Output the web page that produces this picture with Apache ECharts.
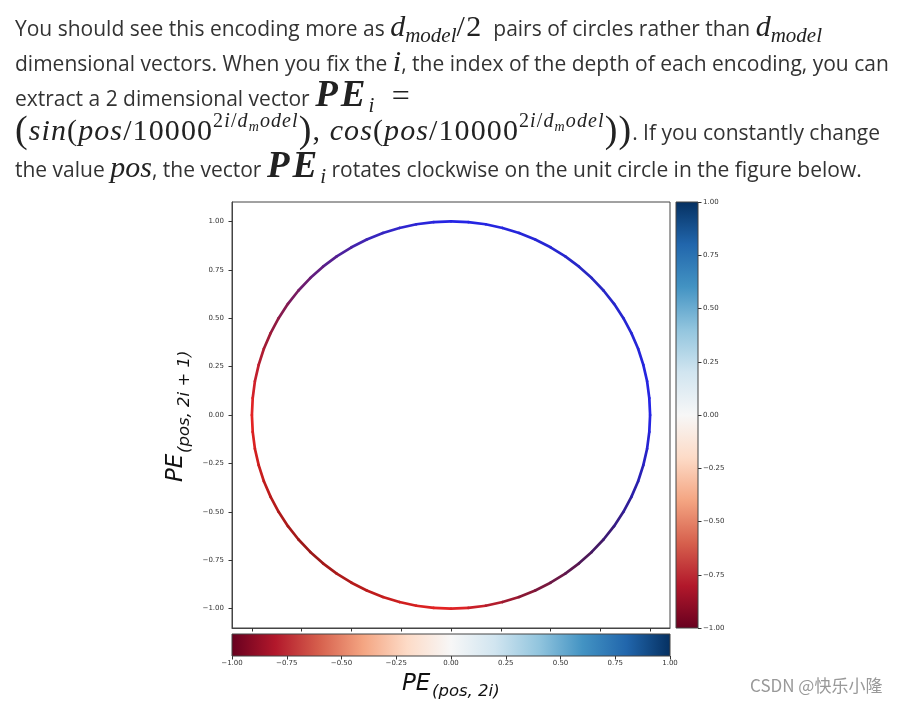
<!DOCTYPE html>
<html>
<head>
<meta charset="utf-8">
<script src="https://cdn.jsdelivr.net/npm/echarts@6/dist/echarts.min.js"></script>
<style>
html,body{margin:0;padding:0;background:#fff;width:903px;height:704px;overflow:hidden;}
#chart{position:absolute;left:0;top:0;width:903px;height:704px;}
.ln{position:absolute;left:15px;white-space:nowrap;font-family:'Open Sans',sans-serif;font-size:21px;line-height:20px;color:#333;}
.ln span{line-height:0;}
.mi{font-family:'Liberation Serif',serif;font-style:italic;font-size:30px;color:#222;}
.mr{font-family:'Liberation Serif',serif;font-size:30px;color:#222;}
.mb{font-family:'Liberation Serif',serif;font-style:italic;font-weight:bold;font-size:37px;letter-spacing:3px;color:#222;}
.sb{font-family:'Liberation Serif',serif;font-style:italic;font-size:21px;position:relative;top:6px;color:#222;}
.sp{font-family:'Liberation Serif',serif;font-style:italic;font-size:20px;position:relative;top:-13px;color:#222;}
.spr{font-family:'Liberation Serif',serif;font-size:20px;position:relative;top:-13px;color:#222;}
.ss{font-family:'Liberation Serif',serif;font-style:italic;font-size:14px;position:relative;top:-9px;color:#222;}
.big{font-family:'Liberation Serif',serif;font-size:38px;color:#222;position:relative;top:2px;}
.l4 span{letter-spacing:1.1px;}
</style>
</head>
<body>
<div id="chart"></div>
<div class="ln" style="top:18px;">You should see this encoding more as <span class="mi">d</span><span class="sb">model</span><span class="mr" style="letter-spacing:1.5px;margin-right:5px;">/2</span> pairs of circles rather than <span class="mi">d</span><span class="sb">model</span></div>
<div class="ln" style="top:53px;">dimensional vectors. When you fix the <span class="mi">i</span>, the index of the depth of each encoding, you can</div>
<div class="ln" style="top:88px;">extract a 2 dimensional vector <span class="mb">PE</span><span class="sb">i</span> <span class="mr" style="margin-left:12px;font-size:32px;">=</span></div>
<div class="ln l4" style="top:122px;"><span class="big">(</span><span class="mi">sin</span><span class="mr">(</span><span class="mi">pos</span><span class="mr">/10000</span><span class="spr">2</span><span class="sp">i</span><span class="spr">/</span><span class="sp">d</span><span class="ss">m</span><span class="sp">odel</span><span class="big">)</span><span class="mr">, </span><span class="mi">cos</span><span class="mr">(</span><span class="mi">pos</span><span class="mr">/10000</span><span class="spr">2</span><span class="sp">i</span><span class="spr">/</span><span class="sp">d</span><span class="ss">m</span><span class="sp">odel</span><span class="big">))</span><span style="letter-spacing:0;">. If you constantly change</span></div>
<div class="ln" style="top:159px;">the value <span class="mi">pos</span>, the vector <span class="mb">PE</span><span class="sb">i</span> rotates clockwise on the unit circle in the figure below.</div>
<script>
// ---- data ----
const circleX = [1.000,0.996,0.985,0.966,0.940,0.906,0.866,0.819,0.766,0.707,0.643,0.574,0.500,0.423,0.342,0.259,0.174,0.087,
  0.000,-0.087,-0.174,-0.259,-0.342,-0.423,-0.500,-0.574,-0.643,-0.707,-0.766,-0.819,-0.866,-0.906,-0.940,-0.966,-0.985,-0.996,
  -1.000,-0.996,-0.985,-0.966,-0.940,-0.906,-0.866,-0.819,-0.766,-0.707,-0.643,-0.574,-0.500,-0.423,-0.342,-0.259,-0.174,-0.087,
  0.000,0.087,0.174,0.259,0.342,0.423,0.500,0.574,0.643,0.707,0.766,0.819,0.866,0.906,0.940,0.966,0.985,0.996];
const circleY = [0.000,0.087,0.174,0.259,0.342,0.423,0.500,0.574,0.643,0.707,0.766,0.819,0.866,0.906,0.940,0.966,0.985,0.996,
  1.000,0.996,0.985,0.966,0.940,0.906,0.866,0.819,0.766,0.707,0.643,0.574,0.500,0.423,0.342,0.259,0.174,0.087,
  0.000,-0.087,-0.174,-0.259,-0.342,-0.423,-0.500,-0.574,-0.643,-0.707,-0.766,-0.819,-0.866,-0.906,-0.940,-0.966,-0.985,-0.996,
  -1.000,-0.996,-0.985,-0.966,-0.940,-0.906,-0.866,-0.819,-0.766,-0.707,-0.643,-0.574,-0.500,-0.423,-0.342,-0.259,-0.174,-0.087];
const tickValues = [-1, -0.75, -0.5, -0.25, 0, 0.25, 0.5, 0.75, 1];
const colorbarRange = [-1, 1];
const xLabelMain = 'PE', xLabelSub = '(pos, 2i)';
const yLabelMain = 'PE', yLabelSub = '(pos, 2i + 1)';
const watermark = 'CSDN @快乐小隆';

// ---- styles ----
const rdbu = ['#67001f','#b2182b','#d6604d','#f4a582','#fddbc7','#f7f7f7','#d1e5f0','#92c5de','#4393c3','#2166ac','#053061'];
const angleStops = [
  [0,'#2424e8'],[30,'#2626d2'],[45,'#2828c0'],[60,'#2626d2'],[90,'#2424e8'],
  [112,'#3626c0'],[135,'#661c78'],[155,'#981a38'],[180,'#e82424'],[202,'#c01c1c'],
  [225,'#981818'],[248,'#c01c1c'],[270,'#e82424'],[292,'#8a1834'],[315,'#46185c'],
  [337,'#2a20a8'],[360,'#2424e8']];
function hex(c){return [parseInt(c.substr(1,2),16),parseInt(c.substr(3,2),16),parseInt(c.substr(5,2),16)];}
function angleColor(rad){
  let d = rad*180/Math.PI; if(d<0) d+=360;
  for(let k=0;k<angleStops.length-1;k++){
    const a=angleStops[k], b=angleStops[k+1];
    if(d>=a[0] && d<=b[0]){
      const t=(d-a[0])/(b[0]-a[0]); const ca=hex(a[1]), cb=hex(b[1]);
      return 'rgb('+ca.map((v,i)=>Math.round(v+(cb[i]-v)*t)).join(',')+')';
    }
  }
  return angleStops[0][1];
}
const fmt = v => (v<0?'\u2212':'') + Math.abs(v).toFixed(2);
const N = circleX.length;
const segData = circleX.map((x,i)=>[x, circleY[i], circleX[(i+1)%N], circleY[(i+1)%N]]);
const gradStops = rdbu.map((c,i)=>({offset:i/(rdbu.length-1), color:c}));
const axisCol = '#333';
const tickFont = {fontSize:7, color:'#333', fontFamily:'DejaVu Sans'};

const chart = echarts.init(document.getElementById('chart'), null, {renderer:'canvas'});
chart.setOption({
  animation:false,
  backgroundColor:'transparent',
  grid:[
    {left:232, top:202, width:438, height:426, show:true, borderColor:'#444', borderWidth:1, backgroundColor:'transparent'},
    {left:676, top:202, width:22, height:426},
    {left:232, top:634, width:438, height:22}
  ],
  xAxis:[
    {gridIndex:0, type:'value', min:-1.1, max:1.1, axisLine:{show:true, onZero:false, lineStyle:{color:'#444',width:1}},
     axisTick:{show:true, inside:false, length:3.5, customValues:tickValues, lineStyle:{color:axisCol}},
     axisLabel:{show:false}, splitLine:{show:false}},
    {gridIndex:1, type:'value', min:0, max:1, show:false},
    {gridIndex:2, type:'value', min:colorbarRange[0], max:colorbarRange[1], interval:0.25, position:'bottom',
     axisLine:{show:false, onZero:false}, axisTick:{show:true, inside:false, length:3.5, lineStyle:{color:axisCol}},
     axisLabel:Object.assign({margin:4, formatter:fmt}, tickFont), splitLine:{show:false}}
  ],
  yAxis:[
    {gridIndex:0, type:'value', min:-1.1, max:1.1, axisLine:{show:true, onZero:false, lineStyle:{color:'#444',width:1}},
     axisTick:{show:true, inside:false, length:3.5, customValues:tickValues, lineStyle:{color:axisCol}},
     axisLabel:Object.assign({margin:8, customValues:tickValues, formatter:fmt}, tickFont), splitLine:{show:false}},
    {gridIndex:1, type:'value', min:colorbarRange[0], max:colorbarRange[1], interval:0.25, position:'right',
     axisLine:{show:false, onZero:false}, axisTick:{show:true, inside:false, length:3.5, lineStyle:{color:axisCol}},
     axisLabel:Object.assign({margin:5, formatter:fmt}, tickFont), splitLine:{show:false}},
    {gridIndex:2, type:'value', min:0, max:1, show:false}
  ],
  series:[
    {type:'custom', xAxisIndex:0, yAxisIndex:0, data:segData, encode:{x:[0,2], y:[1,3]},
     renderItem:function(params, api){
       const x0=api.value(0), y0=api.value(1), x1=api.value(2), y1=api.value(3);
       const a=api.coord([x0,y0]), b=api.coord([x1,y1]);
       return {type:'line', shape:{x1:a[0],y1:a[1],x2:b[0],y2:b[1]},
               style:{stroke:angleColor(Math.atan2((y0+y1)/2,(x0+x1)/2)), lineWidth:2.7, lineCap:'round'}};
     }},
    {type:'custom', xAxisIndex:1, yAxisIndex:1, data:[colorbarRange], encode:{y:[0,1]},
     renderItem:function(params, api){
       const p1=api.coord([0, api.value(1)]), p2=api.coord([1, api.value(0)]);
       return {type:'rect', shape:{x:p1[0], y:p1[1], width:p2[0]-p1[0], height:p2[1]-p1[1]},
               style:{fill:new echarts.graphic.LinearGradient(0,1,0,0,gradStops), stroke:'#444', lineWidth:1}};
     }},
    {type:'custom', xAxisIndex:2, yAxisIndex:2, data:[colorbarRange], encode:{x:[0,1]},
     renderItem:function(params, api){
       const p1=api.coord([api.value(0), 1]), p2=api.coord([api.value(1), 0]);
       return {type:'rect', shape:{x:p1[0], y:p1[1], width:p2[0]-p1[0], height:p2[1]-p1[1]},
               style:{fill:new echarts.graphic.LinearGradient(0,0,1,0,gradStops), stroke:'#444', lineWidth:1}};
     }}
  ],
  graphic:[
    {type:'text', left:402, top:673, style:{text:xLabelMain, fontSize:23, fontStyle:'italic', fontFamily:'DejaVu Sans', fill:'#111'}},
    {type:'text', left:432, top:683, style:{text:xLabelSub, fontSize:16.5, fontStyle:'italic', fontFamily:'DejaVu Sans', fill:'#111'}},
    {type:'group', x:176, y:417, rotation:Math.PI/2, children:[
      {type:'text', x:-65, y:0, style:{text:yLabelMain, fontSize:23, fontStyle:'italic', fontFamily:'DejaVu Sans', fill:'#111', align:'left', verticalAlign:'middle'}},
      {type:'text', x:-36, y:9, style:{text:yLabelSub, fontSize:16.5, fontStyle:'italic', fontFamily:'DejaVu Sans', fill:'#111', align:'left', verticalAlign:'middle'}}
    ]},
    {type:'text', left:750, top:677, style:{text:watermark, fontSize:17, fontFamily:'Noto Sans CJK SC', fill:'#999'}}
  ]
});
</script>
</body>
</html>
